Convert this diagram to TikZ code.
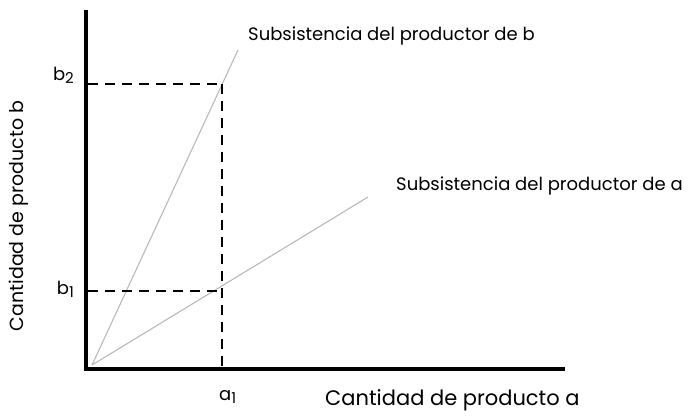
\documentclass[tikz,border=0pt]{standalone}
\usepackage{fontspec}
\setmainfont{Poppins}
\begin{document}
\begin{tikzpicture}[x=1pt,y=-1pt,
  axis/.style={line width=4.5pt},
  guide/.style={line width=2pt,dash pattern=on 10pt off 7pt},
  ray/.style={line width=1.1pt,gray!55},
  lbl/.style={inner sep=0pt,font=\fontsize{18}{20}\selectfont},
  axlbl/.style={inner sep=0pt,font=\fontsize{21}{23}\selectfont},
  ylbl/.style={inner sep=0pt,font=\fontsize{19}{21}\selectfont},
  tick/.style={inner sep=0pt,font=\fontsize{18}{20}\selectfont}]
\useasboundingbox (0,0) rectangle (692,415);
% key points
\coordinate (ytop) at (86,12);
\coordinate (O) at (86,369);
\coordinate (xend) at (563,369);
\coordinate (O2) at (92,365);
\coordinate (yb2) at (88,84);
\coordinate (yb1) at (88,291);
\coordinate (p2) at (222,84);
\coordinate (p1) at (222,291);
\coordinate (xa1) at (222,369);
\coordinate (endb) at (238,50);
\coordinate (enda) at (368,197);
% rays
\draw[ray] (O2) -- (endb);
\draw[ray] (O2) -- (enda);
% guides
\draw[guide] (yb2) -- (p2);
\draw[guide] (yb1) -- (p1);
\draw[guide] (p2) -- (xa1);
% axes
\draw[axis,line cap=rect] (ytop) -- (O) -- (xend);
% labels
\node[lbl,anchor=base west] (lb) at (248,40) {Subsistencia del productor de b};
\node[lbl,anchor=base west] (la) at (396,190) {Subsistencia del productor de a};
\node[tick,anchor=base east] (tb2) at (74,80) {b\raisebox{-3pt}{\fontsize{15}{16}\selectfont 2}};
\node[tick,anchor=base east] (tb1) at (74,294) {b\raisebox{-3pt}{\fontsize{15}{16}\selectfont 1}};
\node[tick,anchor=base west] (ta1) at (219,400) {a\raisebox{-3pt}{\fontsize{15}{16}\selectfont 1}};
\node[axlbl,anchor=base west] (lx) at (325,405) {Cantidad de producto a};
\node[ylbl,anchor=base,rotate=90] (ly) at (23,216) {Cantidad de producto b};
\end{tikzpicture}
\end{document}
